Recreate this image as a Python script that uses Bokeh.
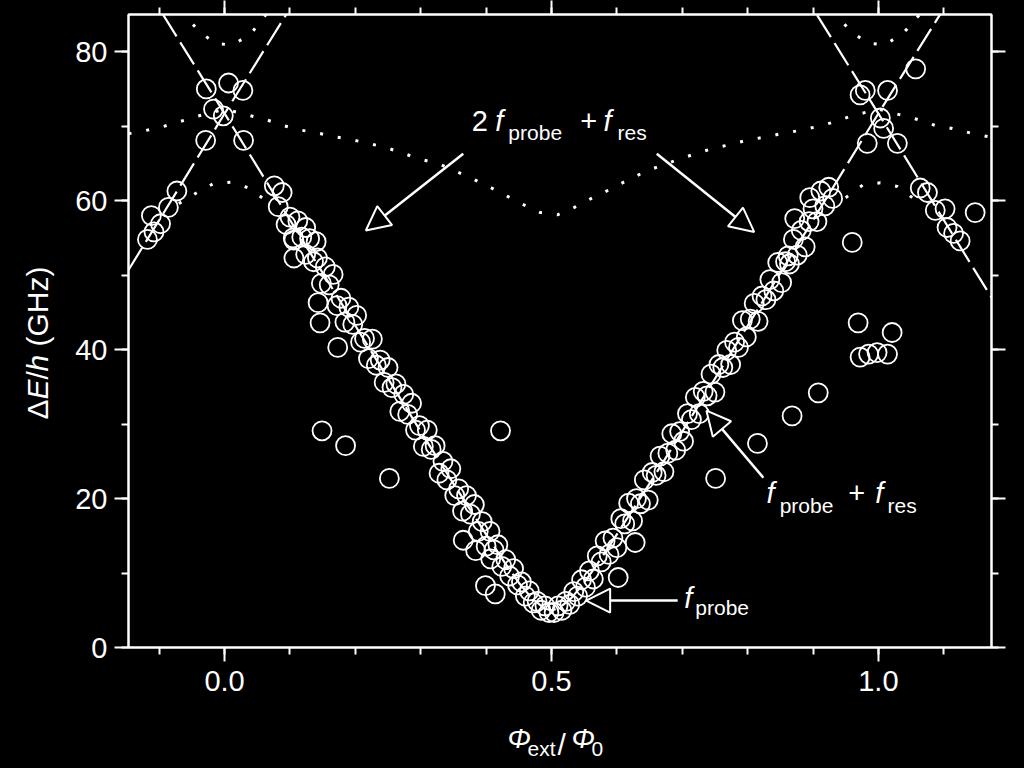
import math
from bokeh.plotting import figure
from bokeh.layouts import row, column
from bokeh.core.properties import value
from bokeh.models import (ColumnDataSource, Label, Arrow, NormalHead, LinearAxis,
                          SingleIntervalTicker, PrintfTickFormatter, Range1d,
                          CustomLabelingPolicy)
from bokeh.embed import file_html
from bokeh.resources import INLINE

# ---------------- data ----------------
left_x = [0.076,0.082,0.088,0.094,0.100,0.106,0.112,0.118,0.124,0.130,0.136,0.142,0.148,0.154,0.160,0.166,
          0.172,0.178,0.184,0.190,0.196,0.202,0.208,0.214,0.220,0.226,0.232,0.238,0.244,0.250,0.256,0.262,
          0.268,0.274,0.280,0.286,0.292,0.298,0.304,0.310,0.316,0.322,0.328,0.334,0.340,0.346,0.352,0.358,
          0.364,0.370,0.376,0.382,0.388,0.394,0.400,0.406,0.412,0.418,0.424,0.430,0.436,0.442,0.448,0.454,
          0.460,0.466,0.472,0.478,0.484,0.490,0.496]
left_y = [62.0,59.2,61.1,56.8,57.8,54.7,57.3,55.1,52.8,54.9,51.8,52.3,48.9,51.1,48.7,50.1,
          45.9,46.9,43.7,45.7,43.4,44.6,41.0,41.5,38.8,41.4,37.9,38.6,35.6,37.6,34.9,35.4,
          31.7,34.0,31.3,32.8,29.2,29.8,27.0,29.2,26.6,27.1,23.4,25.0,22.5,24.0,20.4,21.3,
          18.3,20.4,17.9,19.2,15.6,16.9,13.6,15.6,13.1,13.8,10.9,11.8,9.6,10.6,8.4,8.8,
          6.9,7.6,6.0,6.2,5.0,5.6,4.7]

right_x = [0.504,0.510,0.516,0.522,0.528,0.534,0.540,0.546,0.552,0.558,0.564,0.570,0.576,0.582,0.588,0.594,
           0.600,0.606,0.612,0.618,0.624,0.630,0.636,0.642,0.648,0.654,0.660,0.666,0.672,0.678,0.684,0.690,
           0.696,0.702,0.708,0.714,0.720,0.726,0.732,0.738,0.744,0.750,0.756,0.762,0.768,0.774,0.780,0.786,
           0.792,0.798,0.804,0.810,0.816,0.822,0.828,0.834,0.840,0.846,0.852,0.858,0.864,0.870,0.876,0.882,
           0.888,0.894,0.900,0.906,0.912,0.918,0.924,0.930]
right_y = [4.7,5.6,5.0,6.2,5.8,7.5,6.9,9.1,8.1,10.3,9.2,12.3,11.5,14.3,12.5,14.7,
           13.4,17.3,16.6,19.4,17.0,20.0,19.3,22.5,19.8,23.5,23.1,25.7,23.6,26.1,28.7,26.5,
           29.0,27.7,31.4,30.6,33.6,31.4,34.4,33.8,36.7,34.3,38.0,37.6,39.9,38.0,41.0,40.3,
           43.9,41.7,44.1,46.2,43.8,47.2,46.7,49.4,47.9,51.7,49.0,51.8,51.5,54.8,52.7,56.0,
           53.8,57.2,58.9,57.2,61.3,59.3,61.8,60.3]

scatter_x = [0.106,0.143,0.146,0.173,0.149,0.185,0.252,0.422,0.365,0.384,0.407,0.399,0.414,0.628,0.602,
             0.751,0.815,0.868,0.908,0.969,1.021,0.972,0.985,0.998,1.014,0.960,0.862,0.872,0.895,
             0.124,0.140,0.105]
scatter_y = [52.3,46.3,43.6,40.3,29.1,27.1,22.7,29.1,14.4,13.0,11.9,8.3,7.2,14.1,9.4,
             22.7,27.4,31.1,34.2,43.6,42.3,39.0,39.4,39.6,39.4,54.4,52.6,57.6,60.4,
             56.4,54.5,55.0]

cross0_x = [-0.028,0.006,0.028,-0.002,-0.017,-0.029,0.029]
cross0_y = [75.0,75.8,74.8,71.4,72.3,68.1,68.1]
cross1_x = [0.972,0.980,1.014,1.003,1.008,0.983,1.029,1.057]
cross1_y = [74.2,74.8,74.8,71.1,69.7,67.7,67.7,77.7]
side0_x = [-0.073,-0.086,-0.098,-0.108,-0.112,-0.118]
side0_y = [61.3,59.1,56.9,55.8,58.0,54.8]
side1_x = [1.064,1.075,1.087,1.102,1.105,1.115,1.125,1.148]
side1_y = [61.7,61.1,58.7,58.9,56.4,55.6,54.6,58.4]

# theory lines (dashed)
v05_x = [-0.147,-0.1,0.0,0.1,0.2,0.3,0.35,0.4,0.43,0.45,0.47,0.49,0.5,0.51,0.53,0.55,0.57,0.6,0.65,0.7,0.8,0.9,1.0,1.1,1.173]
v05_y = [92.6,85.8,71.7,57.4,43.2,29.0,22.0,15.2,11.2,8.7,6.6,5.2,5.0,5.2,6.6,8.7,11.2,15.2,22.0,29.0,43.2,57.4,71.7,85.8,96.4]
vm05_x = [-0.147,-0.1,0.0,0.1,0.12]
vm05_y = [50.7,57.4,71.7,85.8,88.7]
v15_x = [0.88,0.9,1.0,1.1,1.173]
v15_y = [88.7,85.8,71.7,57.4,47.0]

# dotted curves
dotB_x = [-0.147,-0.122,-0.096,-0.069,-0.043,0.0,0.035,0.063,0.089,0.115,0.142,0.167,0.194,0.220,0.248,0.272,
          0.298,0.326,0.352,0.378,0.404,0.430,0.456,0.483,0.509,0.535,0.561,0.589,0.615,0.641,0.667,0.693,
          0.720,0.746,0.772,0.798,0.824,0.852,0.878,0.904,0.930,0.956,1.0,1.060,1.087,1.113,1.140,1.173]
dotB_y = [69.0,69.4,69.9,70.6,71.3,72.3,71.5,70.9,70.1,69.5,69.1,68.6,68.2,67.7,67.1,66.4,
          65.6,65.0,64.0,63.0,61.9,60.7,59.5,58.4,58.1,59.1,60.3,61.5,62.7,63.8,64.7,65.5,
          66.3,67.0,67.5,68.1,68.5,69.0,69.4,69.9,70.5,71.3,72.3,70.9,70.1,69.7,69.1,68.5]
dotC_x = [-0.07,-0.042,-0.017,0.011,0.037,0.065]
dotC_y = [59.6,61.1,62.3,62.5,61.7,59.9]
dotC1_x = [0.95,0.976,1.003,1.029,1.055]
dotC1_y = [60.4,62.1,62.4,61.9,60.2]
dotD_x = [-0.066,-0.040,-0.014,0.012,0.040,0.066]
dotD_y = [85.5,82.8,81.1,80.9,82.4,85.3]
dotD1_x = [0.930,0.957,0.983,1.009,1.037,1.063]
dotD1_y = [85.5,82.8,81.2,80.9,82.4,85.0]

x_ticks_interval = 0.5
y_ticks_interval = 20

# axis titles, split into pieces
ylabel_parts = ["Δ", "E", "/", "h", "(GHz)"]
ylabel_italic = [False, True, False, True, False]
xlabel_parts = ["Φ", "ext", "/", "Φ", "0"]
xlabel_italic = [True, False, False, True, False]

FONT = "Liberation Sans"
W = "white"
BG = "black"

LEFT_W = 70
MAIN_W = 1024 - LEFT_W
MAIN_H = 710
BOT_H = 768 - MAIN_H


def no_align(fig):
    try:
        fig.frame_align = False
    except Exception:
        pass


p = figure(width=MAIN_W, height=MAIN_H, x_range=Range1d(-0.147, 1.173), y_range=Range1d(0, 85),
           output_backend="svg", toolbar_location=None, title=None,
           min_border_left=128 - LEFT_W, min_border_right=33, min_border_top=14,
           min_border_bottom=MAIN_H - 647,
           background_fill_color=BG, border_fill_color=BG)
no_align(p)
p.outline_line_color = W
p.outline_line_width = 2
p.xgrid.visible = False
p.ygrid.visible = False

hide_all = CustomLabelingPolicy(code="for (const i of indices) { indices.unset(i) }\nreturn indices")


def style(ax, show_labels):
    ax.axis_line_color = W
    ax.axis_line_width = 2
    ax.major_tick_line_color = W
    ax.major_tick_line_width = 2
    ax.minor_tick_line_color = W
    ax.minor_tick_line_width = 2
    ax.major_tick_in = 0
    ax.major_tick_out = 14
    ax.minor_tick_in = 0
    ax.minor_tick_out = 7
    if show_labels:
        ax.major_label_text_color = W
        ax.major_label_text_font = FONT
        ax.major_label_text_font_size = "29px"
    else:
        ax.major_label_policy = hide_all
        ax.major_label_text_font_size = "0px"
        ax.major_label_text_color = W
        ax.major_label_standoff = 0


xb = p.xaxis[0]
yl = p.yaxis[0]
xb.ticker = SingleIntervalTicker(interval=x_ticks_interval, num_minor_ticks=5)
xb.formatter = PrintfTickFormatter(format="%.1f")
yl.ticker = SingleIntervalTicker(interval=y_ticks_interval, num_minor_ticks=2)
style(xb, True)
style(yl, True)
xb.major_label_standoff = 9
yl.major_label_standoff = 7

xt = LinearAxis(ticker=SingleIntervalTicker(interval=x_ticks_interval, num_minor_ticks=5))
yr = LinearAxis(ticker=SingleIntervalTicker(interval=y_ticks_interval, num_minor_ticks=2))
style(xt, False)
style(yr, False)
p.add_layout(xt, "above")
p.add_layout(yr, "right")

# theory curves
for xs, ys in [(v05_x, v05_y), (vm05_x, vm05_y), (v15_x, v15_y)]:
    p.line(xs, ys, line_color=W, line_width=2.2, line_dash="26 7")
for xs, ys in [(dotB_x, dotB_y), (dotC_x, dotC_y), (dotC1_x, dotC1_y), (dotD_x, dotD_y), (dotD1_x, dotD1_y)]:
    p.line(xs, ys, line_color=W, line_width=3, line_dash="3 15")

# measured points
for xs, ys in [(left_x, left_y), (right_x, right_y), (scatter_x, scatter_y),
               (cross0_x, cross0_y), (cross1_x, cross1_y), (side0_x, side0_y), (side1_x, side1_y)]:
    src = ColumnDataSource(dict(x=xs, y=ys))
    p.scatter("x", "y", source=src, marker="circle", size=19, fill_color=None,
              line_color=W, line_width=1.8)


def arrow(x0, y0, x1, y1):
    p.add_layout(Arrow(end=NormalHead(size=24, fill_color=BG, line_color=W, line_width=2),
                       x_start=x0, y_start=y0, x_end=x1, y_end=y1,
                       line_color=W, line_width=2.5))


arrow(0.365, 66.3, 0.216, 56.0)
arrow(0.661, 66.3, 0.810, 55.8)
arrow(0.824, 22.8, 0.737, 31.8)
arrow(0.693, 6.3, 0.553, 6.3)


def lab(x, y, t, size, italic=False):
    p.add_layout(Label(x=x, y=y, text=t, text_color=W, text_font=FONT,
                       text_font_size=size, text_font_style="italic" if italic else "normal",
                       text_align="left", text_baseline="alphabetic"))


MAIN = "29px"
SUB = "21px"
# 2 f_probe + f_res
lab(0.378, 70.65, "2", MAIN)
lab(0.414, 70.65, "f", MAIN, True)
lab(0.434, 69.15, "probe", SUB)
lab(0.544, 70.65, "+", MAIN)
lab(0.5795, 70.65, "f", MAIN, True)
lab(0.601, 69.15, "res", SUB)
# f_probe + f_res
lab(0.829, 20.8, "f", MAIN, True)
lab(0.849, 19.1, "probe", SUB)
lab(0.954, 20.8, "+", MAIN)
lab(0.995, 20.8, "f", MAIN, True)
lab(1.014, 19.1, "res", SUB)
# f_probe
lab(0.703, 6.7, "f", MAIN, True)
lab(0.720, 5.4, "probe", SUB)


def strip(w, h):
    s = figure(width=w, height=h, x_range=Range1d(0, w), y_range=Range1d(h, 0),
               output_backend="svg", toolbar_location=None, x_axis_type=None, y_axis_type=None,
               title=None, min_border=0, background_fill_color=None, border_fill_color=BG)
    no_align(s)
    s.outline_line_color = None
    s.xgrid.visible = False
    s.ygrid.visible = False
    return s


# left strip: y-axis title (rotated, reading upwards)
ls = strip(LEFT_W, 768)
yl_pos = [419, 399, 379, 371, 346]
for t, it, py in zip(ylabel_parts, ylabel_italic, yl_pos):
    ls.text(x=[37], y=[py], text=[t], angle=math.pi / 2, text_color=W,
            text_font=value(FONT), text_font_size=value("30px"),
            text_font_style="italic" if it else "normal",
            text_align="left", text_baseline="alphabetic")

# bottom strip: x-axis title
bs = strip(MAIN_W, BOT_H)
xl_pos = [(437, 28, "28px"), (457, 38, "21px"), (487, 34, "30px"), (501, 28, "28px"), (521, 38, "21px")]
for t, it, (px, py, fs) in zip(xlabel_parts, xlabel_italic, xl_pos):
    bs.text(x=[px], y=[py], text=[t], text_color=W,
            text_font=value(FONT), text_font_size=value(fs),
            text_font_style="italic" if it else "normal",
            text_align="left", text_baseline="alphabetic")

black = {"background-color": "black"}
layout = row(ls, column(p, bs, spacing=0, styles=black), spacing=0, styles=black)
open("out.html", "w").write(file_html(layout, INLINE))
